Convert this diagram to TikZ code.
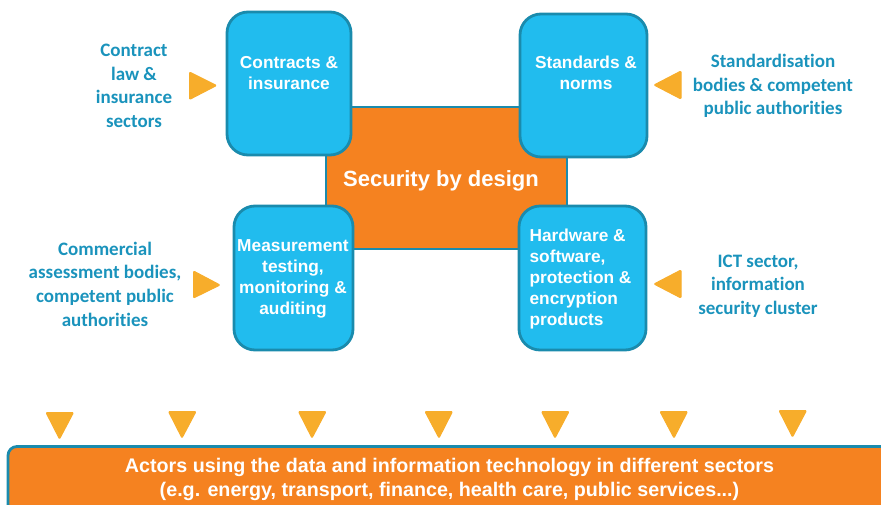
\documentclass[tikz,border=0pt]{standalone}
\usepackage{fontspec}
\setmainfont{Liberation Sans}
\newfontfamily\calib[RawFeature=-liga]{Carlito}
\definecolor{boxblue}{HTML}{21BCEE}
\definecolor{edgeblue}{HTML}{1A8BAD}
\definecolor{boxorange}{HTML}{F58220}
\definecolor{triorange}{HTML}{F7AD2B}
\definecolor{labelblue}{HTML}{1A93BC}
\tikzset{
  bluebox/.style={draw=edgeblue,line width=2.8pt,fill=boxblue,rounded corners=21pt},
  orangebox/.style={draw=edgeblue,line width=2.8pt,fill=boxorange},
  boxtext/.style={text=white,font=\bfseries\fontsize{17.3}{21}\selectfont,align=center,inner sep=0pt},
  actor/.style={text=labelblue,font=\calib\bfseries\fontsize{19}{23.6}\selectfont,align=center,inner sep=0pt},
  tri/.style={fill=triorange,draw=triorange,line width=1pt,line join=round,rounded corners=1pt},
}
\begin{document}
\begin{tikzpicture}[x=1pt,y=-1pt]
\useasboundingbox (0,0) rectangle (881,504);
% centre
\path[orangebox] (326,107) rectangle (567,249);
\node[boxtext,font=\bfseries\fontsize{22}{24}\selectfont] (sec) at (441,181) {Security by design};
% blue boxes
\path[bluebox] (227,12) rectangle (351,155);
\node[boxtext] (con) at (289,73.5) {Contracts \&\\insurance};
\path[bluebox] (520,14) rectangle (647,157);
\node[boxtext] (std) at (586,73) {Standards \&\\norms};
\path[bluebox] (234,206) rectangle (353,350);
\node[boxtext] (mea) at (293,278.5) {Measurement\\testing,\\monitoring \&\\auditing};
\path[bluebox] (519,206) rectangle (646,350);
\node[boxtext,align=left] (hw) at (580.5,279.5) {Hardware \&\\software,\\protection \&\\encryption\\products};
% actor labels
\node[actor] (a1) at (134,86) {Contract\\law \&\\insurance\\sectors};
\node[actor] (a2) at (773,86) {Standardisation\\bodies \& competent\\public authorities};
\node[actor] (a3) at (105,284) {Commercial\\assessment bodies,\\competent public\\authorities};
\node[actor] (a4) at (758,286) {ICT sector,\\information\\security cluster};
% side triangles
\path[tri] (189.5,72) -- (216.5,85.5) -- (189.5,99.5) -- cycle;
\path[tri] (681,71) -- (654,85) -- (681,99) -- cycle;
\path[tri] (193.5,271) -- (220,285) -- (193.5,298) -- cycle;
\path[tri] (681,270) -- (654,284) -- (681,298) -- cycle;
% down triangles
\path[tri] (46,412.5) -- (73.5,412.5) -- (59.5,439) -- cycle;
\path[tri] (168.5,411.5) -- (196,411.5) -- (182,438) -- cycle;
\path[tri] (298.5,411.5) -- (326,411.5) -- (312,438) -- cycle;
\path[tri] (425,411.5) -- (452.5,411.5) -- (439,438) -- cycle;
\path[tri] (541.5,411.5) -- (569,411.5) -- (555,438) -- cycle;
\path[tri] (660,411.5) -- (687.5,411.5) -- (674,438) -- cycle;
\path[tri] (779,410.5) -- (806.5,410.5) -- (792.5,437) -- cycle;
% bottom bar
\path[orangebox,rounded corners=9pt] (8,446.5) rectangle (895,520);
\node[boxtext,font=\bfseries\fontsize{19.7}{23.5}\selectfont] (act) at (449.5,479.5) {Actors using the data and information technology in different sectors\\(e.g. energy, transport, finance, health care, public services...)};
\end{tikzpicture}
\end{document}
